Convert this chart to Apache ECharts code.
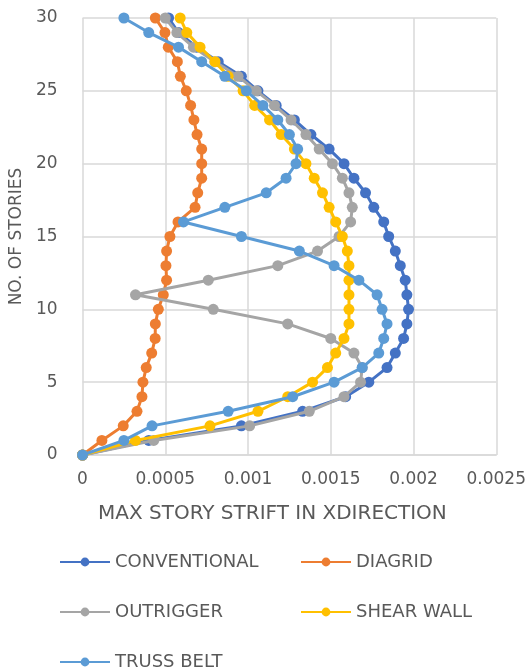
<!DOCTYPE html>
<html lang="en">
<head>
    <meta charset="UTF-8">
    <title>Story drift</title>
    <script type="text/javascript" src="https://cdn.jsdelivr.net/npm/echarts@6/dist/echarts.min.js"></script>
    <style>
        html, body {
            width: 100%;
            height: 100%;
            margin: 0;
            padding: 0;
            background: #fff;
        }
        #main {
            width: 529px;
            height: 668px;
        }
    </style>
</head>
<body>
    <div id="main"></div>
    <script>
        // stories 0..30
        var stories = [];
        for (var i = 0; i <= 30; i++) stories.push(i);

        var conventional = [0, 0.00040, 0.00096, 0.00133, 0.00159, 0.00173, 0.00184, 0.00189, 0.00194, 0.00196,
            0.00197, 0.00196, 0.00195, 0.00192, 0.00189, 0.00185, 0.00182, 0.00176, 0.00171, 0.00164,
            0.00158, 0.00149, 0.00138, 0.00128, 0.00117, 0.00106, 0.00096, 0.00082, 0.00069, 0.00058, 0.00052];
        var diagrid = [0, 0.000117, 0.000246, 0.000329, 0.000359, 0.000365, 0.000385, 0.000418, 0.000439, 0.00044,
            0.000458, 0.000488, 0.000508, 0.000504, 0.000508, 0.000528, 0.000577, 0.00068, 0.000696, 0.00072,
            0.00072, 0.00072, 0.000692, 0.000673, 0.000653, 0.000627, 0.000591, 0.000573, 0.000518, 0.000498, 0.00044];
        var outrigger = [0, 0.00043, 0.00101, 0.00137, 0.00158, 0.00168, 0.00169, 0.00164, 0.0015, 0.00124,
            0.00079, 0.00032, 0.00076, 0.00118, 0.00142, 0.00155, 0.00162, 0.00163, 0.00161, 0.00157,
            0.00151, 0.00143, 0.00135, 0.00126, 0.00116, 0.00105, 0.00094, 0.0008, 0.00067, 0.00057, 0.0005];
        var shearWall = [0, 0.00032, 0.00077, 0.00106, 0.00124, 0.00139, 0.00148, 0.00153, 0.00158, 0.00161,
            0.00161, 0.00161, 0.00161, 0.00161, 0.0016, 0.00157, 0.00153, 0.00149, 0.00145, 0.0014,
            0.00135, 0.00128, 0.0012, 0.00113, 0.00104, 0.00097, 0.00088, 0.0008, 0.00071, 0.00063, 0.00059];
        var trussBelt = [0, 0.00025, 0.00042, 0.00088, 0.00127, 0.00152, 0.00169, 0.00179, 0.00182, 0.00184,
            0.00181, 0.00178, 0.00167, 0.00152, 0.00131, 0.00096, 0.00061, 0.00086, 0.00111, 0.00123,
            0.00129, 0.0013, 0.00125, 0.00118, 0.00109, 0.00099, 0.00086, 0.00072, 0.00058, 0.0004, 0.00025];

        var names = ['CONVENTIONAL', 'DIAGRID', 'OUTRIGGER', 'SHEAR WALL', 'TRUSS BELT'];
        var colors = ['#4472C4', '#ED7D31', '#A5A5A5', '#FFC000', '#5B9BD5'];
        var values = [conventional, diagrid, outrigger, shearWall, trussBelt];

        var textColor = '#595959';
        var font = 'DejaVu Sans';

        function pairs(arr) {
            return arr.map(function (v, i) { return [v, stories[i]]; });
        }

        var series = names.map(function (n, k) {
            return {
                name: n,
                type: 'line',
                data: pairs(values[k]),
                symbol: 'circle',
                symbolSize: 11,
                color: colors[k],
                lineStyle: { width: 3, color: colors[k] },
                itemStyle: { color: colors[k] },
                z: 2 + k
            };
        });

        // legend slots: two columns (left col needs extra offset, it lands ~22px left)
        var legendPos = [[54, 548], [295, 548], [54, 598], [295, 598], [54, 648]];
        var legends = names.map(function (n, k) {
            return {
                data: [n],
                left: legendPos[k][0],
                top: legendPos[k][1],
                itemWidth: 50,
                itemHeight: 11,
                textStyle: { color: textColor, fontSize: 18, fontFamily: font },
                selectedMode: false
            };
        });

        var myChart = echarts.init(document.getElementById('main'));
        var option = {
            backgroundColor: '#fff',
            animation: false,
            grid: { left: 78, right: 31, top: 18, bottom: 213 },
            legend: legends,
            xAxis: {
                type: 'value',
                min: 0,
                max: 0.0025,
                interval: 0.0005,
                name: 'MAX STORY STRIFT IN XDIRECTION',
                nameLocation: 'middle',
                nameGap: 49,
                nameTextStyle: { color: textColor, fontSize: 20, fontFamily: font, padding: [0, 34, 0, 0] },
                axisLabel: { color: textColor, fontSize: 17, fontFamily: font, margin: 16 },
                axisLine: { show: true, lineStyle: { color: '#d9d9d9', width: 1.5 } },
                axisTick: { show: false },
                splitLine: { lineStyle: { color: '#d9d9d9', width: 1.5 } }
            },
            yAxis: {
                type: 'value',
                min: 0,
                max: 30,
                interval: 5,
                name: 'NO. OF STORIES',
                nameLocation: 'middle',
                nameGap: 55,
                nameTextStyle: { color: textColor, fontSize: 17, fontFamily: font },
                axisLabel: { color: textColor, fontSize: 17, fontFamily: font, margin: 25 },
                axisLine: { show: false },
                axisTick: { show: false },
                splitLine: { lineStyle: { color: '#d9d9d9', width: 1.5 } }
            },
            series: series
        };
        myChart.setOption(option);
    </script>
</body>
</html>
